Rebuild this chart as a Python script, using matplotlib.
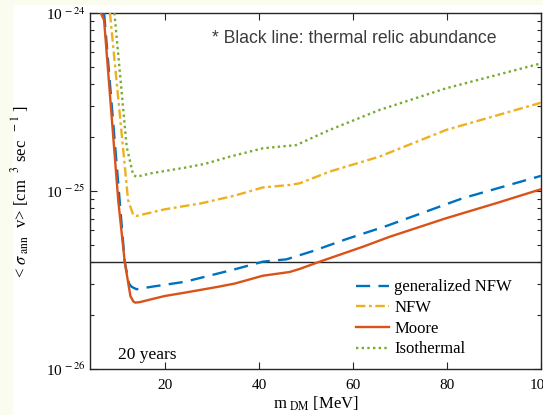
import numpy as np
import matplotlib
matplotlib.use("Agg")
import matplotlib.pyplot as plt
from matplotlib.ticker import FixedLocator, FuncFormatter, LogLocator, NullFormatter

plt.rcParams['font.family'] = 'Liberation Serif'
plt.rcParams['mathtext.fontset'] = 'stix'

# masse (MeV) e sezioni d'urto
m_moore = [6.3, 7.0, 10.0, 11.4, 12.6, 13.2, 13.6, 14.5, 17.1, 19.9, 24.2, 31.3, 34.8, 40.8,
           46.5, 48.6, 52.9, 62.1, 67.8, 79.8, 90.4, 100.0]
s_moore = [-24.0, -24.04, -25.05, -25.40, -25.59, -25.62, -25.627, -25.625, -25.608, -25.59,
           -25.571, -25.538, -25.52, -25.476, -25.455, -25.438, -25.397, -25.313, -25.257,
           -25.153, -25.069, -24.99]

m_gnfw = [7.0, 10.3, 11.4, 12.3, 12.85, 13.9, 17.1, 24.2, 34.8, 40.8, 45.8, 51.5, 58.5, 67.05,
          83.3, 100.0]
s_gnfw = [-24.0, -25.05, -25.40, -25.52, -25.538, -25.552, -25.538, -25.51, -25.44, -25.397,
          -25.384, -25.337, -25.271, -25.197, -25.041, -24.915]

m_nfw = [8.25, 12.1, 13.2, 13.9, 19.9, 27.7, 34.8, 40.8, 46.5, 48.6, 55.0, 65.6, 79.8, 100.0]
s_nfw = [-24.0, -25.05, -25.135, -25.14, -25.103, -25.069, -25.026, -24.98, -24.966, -24.957,
         -24.891, -24.807, -24.657, -24.504]

m_iso = [9.2, 11.8, 13.2, 13.9, 17.1, 24.2, 28.4, 33.75, 40.8, 47.9, 55.0, 65.6, 79.8, 100.0]
s_iso = [-24.0, -24.751, -24.91, -24.92, -24.90, -24.869, -24.848, -24.807, -24.76, -24.742,
         -24.657, -24.545, -24.423, -24.283]

thermal = 4.0e-26
xticks = [20, 40, 60, 80, 100]

fig = plt.figure(figsize=(5.43, 4.15), dpi=100, facecolor='#fbfcf0')
fig.patches.append(plt.Rectangle((12.5/543, 0), 1, 410/415, transform=fig.transFigure,
                                 facecolor='white', edgecolor='none', zorder=-10))
ax = fig.add_axes([90/543, 46/415, 451/543, 356/415])
ax.set_zorder(2)

ax.plot(m_gnfw, 10**np.array(s_gnfw), color='#0072BD', lw=1.7, dashes=(6, 3.5),
        label='generalized NFW', zorder=3)
ax.plot(m_nfw, 10**np.array(s_nfw), color='#EDB120', lw=1.7, dashes=(4, 1.5, 1.2, 1.5),
        label='NFW', zorder=3)
ax.plot(m_moore, 10**np.array(s_moore), color='#D95319', lw=1.7, label='Moore', zorder=4)
ax.plot(m_iso, 10**np.array(s_iso), color='#77AC30', lw=1.7, dashes=(1, 1.4),
        label='Isothermal', zorder=3)
ax.axhline(thermal, color='#262626', lw=1.0, zorder=2)

ax.set_yscale('log')
ax.set_xlim(4, 100)
ax.set_ylim(1e-26, 1e-24)
ax.xaxis.set_major_locator(FixedLocator(xticks))
ax.yaxis.set_major_locator(LogLocator(base=10, numticks=5))
ax.yaxis.set_minor_locator(LogLocator(base=10, subs=np.arange(2, 10), numticks=10))
ax.yaxis.set_minor_formatter(NullFormatter())
ax.yaxis.set_major_formatter(FuncFormatter(lambda v, p: r"10$^{\,%d}$" % round(np.log10(v))))
ax.tick_params(which='both', direction='in', top=True, right=True, labelsize=11,
               color='#262626', width=0.8)
ax.tick_params(which='major', length=5)
ax.tick_params(which='minor', length=3)
ax.tick_params(axis='x', pad=7)
for s in ax.spines.values():
    s.set_color('#262626')
    s.set_linewidth(1.0)

ax.set_xlabel(r"m$_{\rm\ DM}$ [MeV]", fontsize=12, labelpad=2)
ax.set_ylabel(r"< $\sigma_{\rm \ ann}$  v> [cm $^{\ 3}$ sec $^{\ -1}$ ]", fontsize=12, labelpad=10)

ax.text(0.27, 0.915, "* Black line: thermal relic abundance", transform=ax.transAxes,
        fontsize=12.7, color='#3c3c3c', family='Liberation Sans')
ax.text(0.062, 0.028, "20 years", transform=ax.transAxes, fontsize=12.5)

ax.legend(loc='center left', bbox_to_anchor=(0.59, 0.142), frameon=False, fontsize=12,
          borderaxespad=0, borderpad=0, handlelength=2.0, handletextpad=0.3,
          labelspacing=0.28)

fig.savefig('out.png', dpi=100, facecolor=fig.get_facecolor())
